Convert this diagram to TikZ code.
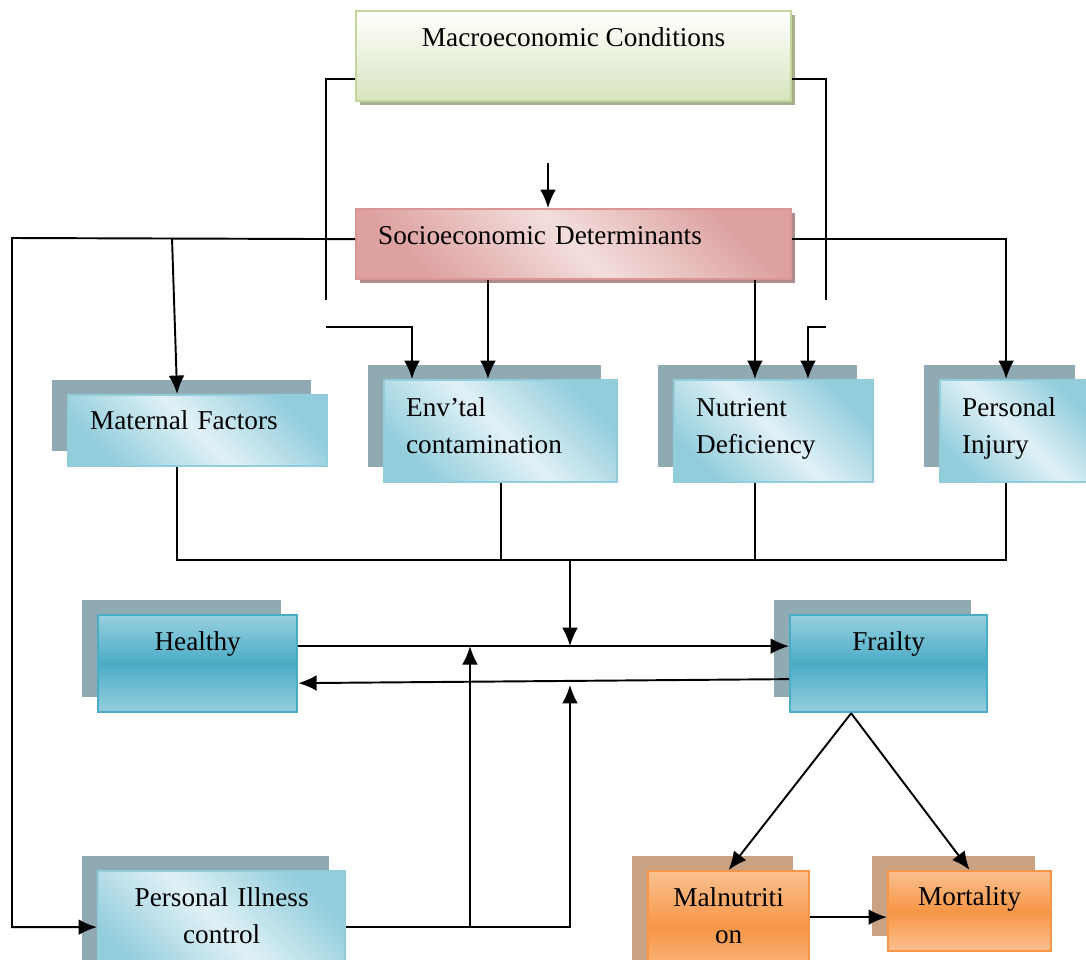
\documentclass[tikz,border=0pt]{standalone}
\usepackage{fontspec}
\setmainfont{Liberation Serif}
\usepackage{tikz}
\usepackage{xcolor}
\usetikzlibrary{arrows.meta,shadows}
\definecolor{BlueEdge}{RGB}{146,205,220}
\definecolor{BlueLight}{RGB}{224,241,246}
\definecolor{BlueShadow}{RGB}{143,170,178}
\definecolor{TealDeep}{RGB}{75,172,198}
\definecolor{TealLight}{RGB}{150,207,222}
\definecolor{OrangeDeep}{RGB}{247,150,70}
\definecolor{OrangeLight}{RGB}{250,192,144}
\definecolor{OrangeShadow}{RGB}{201,161,131}
\definecolor{GreenEdge}{RGB}{195,214,155}
\definecolor{GreenFill}{RGB}{215,228,189}
\definecolor{GreenShadow}{RGB}{166,176,140}
\definecolor{RoseDeep}{RGB}{217,150,148}
\definecolor{RoseLight}{RGB}{243,222,221}
\definecolor{RoseShadow}{RGB}{176,140,140}
\newcommand{\diagfont}{\fontsize{15.5}{21}\selectfont}

\begin{document}
\begin{tikzpicture}[x=0.02cm, y=-0.02cm, >={Latex[length=10.5pt,width=9pt]},
  box/.style={draw, line width=1.3pt, anchor=north west, inner xsep=0.44cm, inner ysep=0pt,
    text height=0.37cm, text depth=0.37cm, font=\diagfont},
  topbox/.style={box, align=center, draw=GreenEdge, top color=white, bottom color=GreenFill,
    general shadow={fill=GreenShadow, shadow xshift=0.08cm, shadow yshift=-0.08cm}},
  rootbox/.style={box, align=left, draw=RoseDeep, top color=RoseDeep!85!RoseLight,
    bottom color=RoseDeep!85!RoseLight, middle color=RoseLight, shading angle=-45,
    general shadow={fill=RoseShadow, shadow xshift=0.08cm, shadow yshift=-0.08cm}},
  factorbox/.style={box, align=left, draw=BlueEdge, top color=BlueEdge, bottom color=BlueEdge,
    middle color=BlueLight, shading angle=-45,
    general shadow={fill=BlueShadow, shadow xshift=-0.32cm, shadow yshift=0.3cm}},
  statebox/.style={box, align=center, draw=TealDeep, top color=TealLight, bottom color=TealLight,
    middle color=TealDeep,
    general shadow={fill=BlueShadow, shadow xshift=-0.32cm, shadow yshift=0.3cm}},
  outcomebox/.style={box, align=center, draw=OrangeDeep, top color=OrangeLight, bottom color=OrangeLight,
    middle color=OrangeDeep,
    general shadow={fill=OrangeShadow, shadow xshift=-0.32cm, shadow yshift=0.3cm}},
  link/.style={line width=1.1pt}]
  \useasboundingbox (0,0) rectangle (1086,960);

  % boxes
  \node[topbox, minimum width=8.7cm, minimum height=1.8cm, text depth=0.75cm] (macro) at (355,10) {Macroeconomic Conditions};
  \node[rootbox, minimum height=1.4cm, text width=7.82cm] (socio) at (355,208) {Socioeconomic Determinants};
  \node[factorbox, minimum height=1.42cm, text width=4.30cm, text depth=0.4cm] (maternal) at (67,394) {Maternal Factors};
  \node[factorbox, minimum height=2.04cm, text width=3.78cm, text depth=0.97cm] (env) at (383,379) {Env'tal\\contamination};
  \node[factorbox, minimum height=2.04cm, text width=3.10cm, text depth=0.97cm] (nutr) at (673,379) {Nutrient\\Deficiency};
  \node[factorbox, minimum height=2.04cm, text width=2.14cm, text depth=0.97cm] (injury) at (939,379) {Personal\\Injury};
  \node[statebox, minimum width=3.98cm, minimum height=1.94cm, text depth=0.91cm] (healthy) at (97,614) {Healthy};
  \node[statebox, minimum width=3.94cm, minimum height=1.94cm, text depth=0.91cm] (frailty) at (789,614) {Frailty};
  \node[factorbox, align=center, minimum height=2.24cm, text width=4.06cm, text depth=1.2cm] (illness) at (97,870) {Personal Illness\\control};
  \node[outcomebox, minimum height=2.24cm, text width=2.34cm, text depth=1.2cm] (malnut) at (647,870) {Malnutriti\\on};
  \node[outcomebox, minimum width=3.26cm, minimum height=1.6cm, text depth=0.61cm] (mort) at (887,870) {Mortality};

  % macro feedback
  \coordinate (macroL) at (326,300);
  \coordinate (macroLb) at (326,327);
  \coordinate (macroR) at (826,300);
  \coordinate (macroRb) at (826,327);
  \draw[link] ([yshift=-0.46cm]macro.west) -| (macroL);
  \draw[link, ->] (macroLb) -| ([xshift=0.58cm]env.north west);
  \draw[link] ([yshift=-0.46cm]macro.east) -| (macroR);
  \draw[link, ->] (macroRb) -| ([xshift=2.7cm]nutr.north west);

  % socioeconomic links
  \coordinate (socioIn) at (548,163);
  \coordinate (leftRail) at (12,238);
  \coordinate (matTap) at (172,238);
  \draw[link, ->] (socioIn) -- (socioIn |- socio.north);
  \draw[link, ->] ([yshift=0.1cm]socio.west) -- (leftRail) |- (illness.west);
  \draw[link, ->] (matTap) -- ([xshift=-0.41cm]maternal.north);
  \draw[link, ->] ([xshift=2.66cm]socio.south west) coordinate (envTap) -- (envTap |- env.north);
  \draw[link, ->] ([xshift=8cm]socio.south west) coordinate (nutTap) -- (nutTap |- nutr.north);
  \draw[link, ->] ([yshift=0.1cm]socio.east) -| ([xshift=-0.19cm]injury.north);

  % collector
  \coordinate (bus) at (570,560);
  \draw[link] ([xshift=-0.41cm]maternal.south) |- (bus) -| ([xshift=-0.19cm]injury.south);
  \draw[link] (env.south) -- (env.south |- bus);
  \draw[link] (nutTap |- nutr.south) -- (nutTap |- bus);

  % states
  \draw[link, ->] ([yshift=0.35cm]healthy.east) coordinate (hfLine) -- ([yshift=0.35cm]frailty.west);
  \draw[link, ->] ([yshift=-0.31cm]frailty.west) -- ([yshift=-0.39cm]healthy.east);
  \draw[link, ->] (bus) -- (bus |- hfLine);

  % illness control
  \coordinate (riseA) at (470,926);
  \coordinate (riseB) at (570,685);
  \draw[link, ->] (illness.east) -| (riseB);
  \draw[link, ->] (riseA) -- (riseA |- hfLine);

  % outcomes
  \draw[link, ->] ([xshift=-0.75cm]frailty.south) -- (malnut.north);
  \draw[link, ->] ([xshift=-0.75cm]frailty.south) -- (mort.north);
  \draw[link, ->] ([yshift=0.2cm]malnut.east) -- ([yshift=0.2cm]malnut.east -| mort.west);
\end{tikzpicture}
\end{document}
